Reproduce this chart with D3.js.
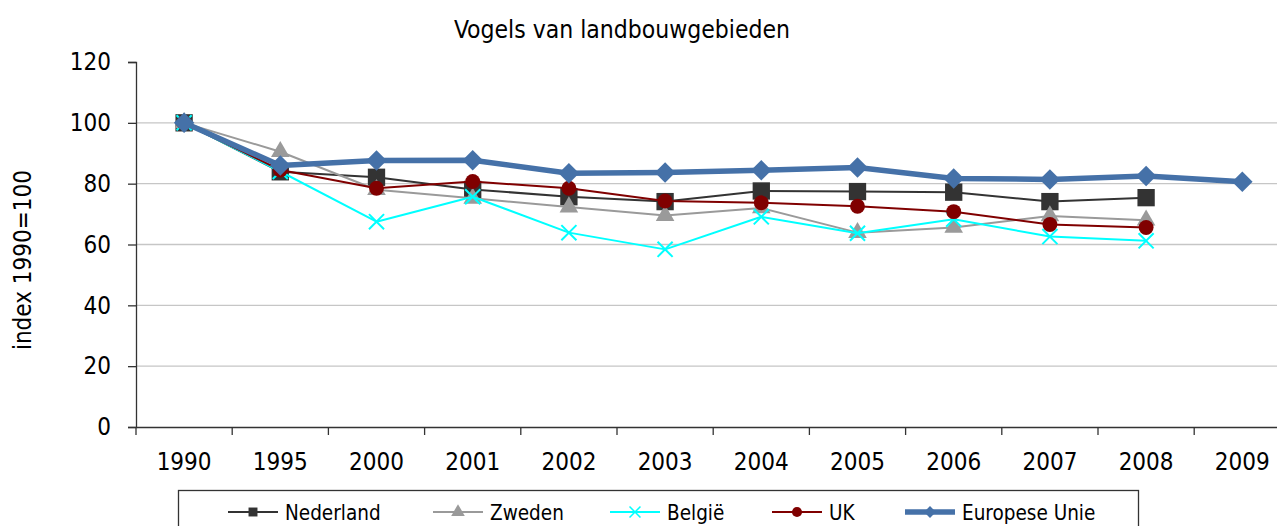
<!DOCTYPE html>
<html>
<head>
<meta charset="utf-8">
<script src="https://cdn.jsdelivr.net/npm/d3@7/dist/d3.min.js"></script>
<style>
  html, body { margin: 0; padding: 0; background: #fff; }
  svg { display: block; font-family: "DejaVu Sans Condensed", "DejaVu Sans", sans-serif; }
</style>
</head>
<body>
<svg id="chart" width="1277" height="526"></svg>
<script>
// Index of farmland bird populations (1990 = 100)
const years = ["1990", "1995", "2000", "2001", "2002", "2003", "2004", "2005", "2006", "2007", "2008", "2009"];
const yTicks = [0, 20, 40, 60, 80, 100, 120];

const nederland = [100, 83.9, 82.1, 78.1, 75.7, 74.1, 77.6, 77.4, 77.2, 74.1, 75.4, null];
const zweden    = [100, 90.5, 78.0, 75.2, 72.3, 69.5, 72.0, 63.9, 65.6, 69.4, 68.0, null];
const belgie    = [100, 84.0, 67.5, 75.7, 63.9, 58.4, 69.1, 63.7, 68.3, 62.6, 61.2, null];
const uk        = [100, 84.5, 78.5, 80.7, 78.5, 74.3, 73.7, 72.6, 70.8, 66.6, 65.6, null];
const eu        = [100, 86.0, 87.6, 87.7, 83.4, 83.7, 84.4, 85.3, 81.7, 81.4, 82.5, 80.6];

const series = [
  { name: "Nederland",     values: nederland, color: "#333333", width: 2,   marker: "square" },
  { name: "Zweden",        values: zweden,    color: "#9a9a9a", width: 2,   marker: "triangle" },
  { name: "België",        values: belgie,    color: "#00ffff", width: 2,   marker: "cross" },
  { name: "UK",            values: uk,        color: "#800000", width: 2,   marker: "circle" },
  { name: "Europese Unie", values: eu,        color: "#4571a8", width: 5.5, marker: "diamond" }
];

const FONT = "DejaVu Sans Condensed, DejaVu Sans, sans-serif";
const svg = d3.select("#chart");
const plotLeft = 136, plotTop = 62, plotBottom = 427;
const band = 96.2;
const plotRight = plotLeft + band * years.length;

const x = d3.scaleBand().domain(years).range([plotLeft, plotRight]);
const y = d3.scaleLinear().domain([0, 120]).range([plotBottom, plotTop]);

// Horizontal gridlines
svg.append("g")
  .selectAll("line")
  .data(yTicks.filter(t => t > 0 && t < 120))
  .join("line")
  .attr("x1", plotLeft).attr("x2", plotRight)
  .attr("y1", d => y(d)).attr("y2", d => y(d))
  .attr("stroke", "#c6c6c6").attr("stroke-width", 1.3);

// Y axis
const yAxis = svg.append("g")
  .attr("transform", `translate(${plotLeft},0)`)
  .call(d3.axisLeft(y).tickValues(yTicks).tickSize(8).tickPadding(17));
yAxis.select(".domain").attr("stroke", "#333").attr("stroke-width", 1.3);
yAxis.selectAll(".tick line").attr("stroke", "#333").attr("stroke-width", 1.3);
yAxis.selectAll("text").attr("font-size", 24).attr("fill", "#000").attr("font-family", FONT);

// X axis with ticks between categories
const xAxis = svg.append("g")
  .attr("transform", `translate(0,${plotBottom})`)
  .call(d3.axisBottom(x).tickSize(0).tickPadding(26));
xAxis.select(".domain").attr("stroke", "#333").attr("stroke-width", 1.3);
xAxis.selectAll("text").attr("font-size", 24).attr("fill", "#000").attr("font-family", FONT);
svg.append("g")
  .selectAll("line")
  .data(years.map(d => x(d)).concat([plotRight]))
  .join("line")
  .attr("x1", d => d).attr("x2", d => d)
  .attr("y1", plotBottom).attr("y2", plotBottom + 8)
  .attr("stroke", "#333").attr("stroke-width", 1.3);

// Marker symbols; the diamond is a square turned 45 degrees
const squareDiamond = {
  draw(ctx, size) {
    const r = Math.sqrt(size / 2);
    ctx.moveTo(0, -r); ctx.lineTo(r, 0); ctx.lineTo(0, r); ctx.lineTo(-r, 0); ctx.closePath();
  }
};
const symbolType = {
  square: d3.symbolSquare, triangle: d3.symbolTriangle, circle: d3.symbolCircle,
  diamond: squareDiamond, cross: d3.symbolX
};
const symbolSize = { square: 300, triangle: 150, circle: 175, diamond: 210, cross: 150 };

const cx = d => x(d) + x.bandwidth() / 2;

series.forEach(s => {
  const pts = years.map((yr, i) => ({ yr, v: s.values[i] })).filter(p => p.v != null);
  svg.append("path")
    .datum(pts)
    .attr("fill", "none")
    .attr("stroke", s.color)
    .attr("stroke-width", s.width)
    .attr("stroke-linejoin", "round")
    .attr("d", d3.line().x(p => cx(p.yr)).y(p => y(p.v)));
  svg.append("g")
    .selectAll("path")
    .data(pts)
    .join("path")
    .attr("transform", p => `translate(${cx(p.yr)},${y(p.v)})`)
    .attr("d", d3.symbol().type(symbolType[s.marker]).size(symbolSize[s.marker]))
    .attr("fill", s.marker === "cross" ? "none" : s.color)
    .attr("stroke", s.color)
    .attr("stroke-width", s.marker === "cross" ? 2 : 0);
});

// Title
svg.append("text")
  .attr("x", 622).attr("y", 38)
  .attr("text-anchor", "middle")
  .attr("font-size", 24.5)
  .attr("font-family", FONT)
  .text("Vogels van landbouwgebieden");

// Y axis title
svg.append("text")
  .attr("transform", "translate(31,260) rotate(-90)")
  .attr("text-anchor", "middle")
  .attr("font-size", 24)
  .attr("font-family", FONT)
  .text("index 1990=100");

// Legend
svg.append("rect")
  .attr("x", 178.5).attr("y", 490.5)
  .attr("width", 960).attr("height", 50)
  .attr("fill", "#fff").attr("stroke", "#333").attr("stroke-width", 1.3);

const legendX = [228, 433, 610, 772, 905];
const legendY = 512;
series.forEach((s, i) => {
  const g = svg.append("g").attr("transform", `translate(${legendX[i]},${legendY})`);
  g.append("line").attr("x1", 0).attr("x2", 50)
    .attr("stroke", s.color).attr("stroke-width", s.width);
  g.append("path").attr("transform", "translate(25,0)")
    .attr("d", d3.symbol().type(symbolType[s.marker]).size(s.marker === "diamond" ? 70 : 80))
    .attr("fill", s.marker === "cross" ? "none" : s.color)
    .attr("stroke", s.color).attr("stroke-width", s.marker === "cross" ? 1.5 : 0);
  g.append("text").attr("x", 57).attr("y", 7.5)
    .attr("font-size", 20.5)
    .attr("font-family", FONT)
    .text(s.name);
});
</script>
</body>
</html>
